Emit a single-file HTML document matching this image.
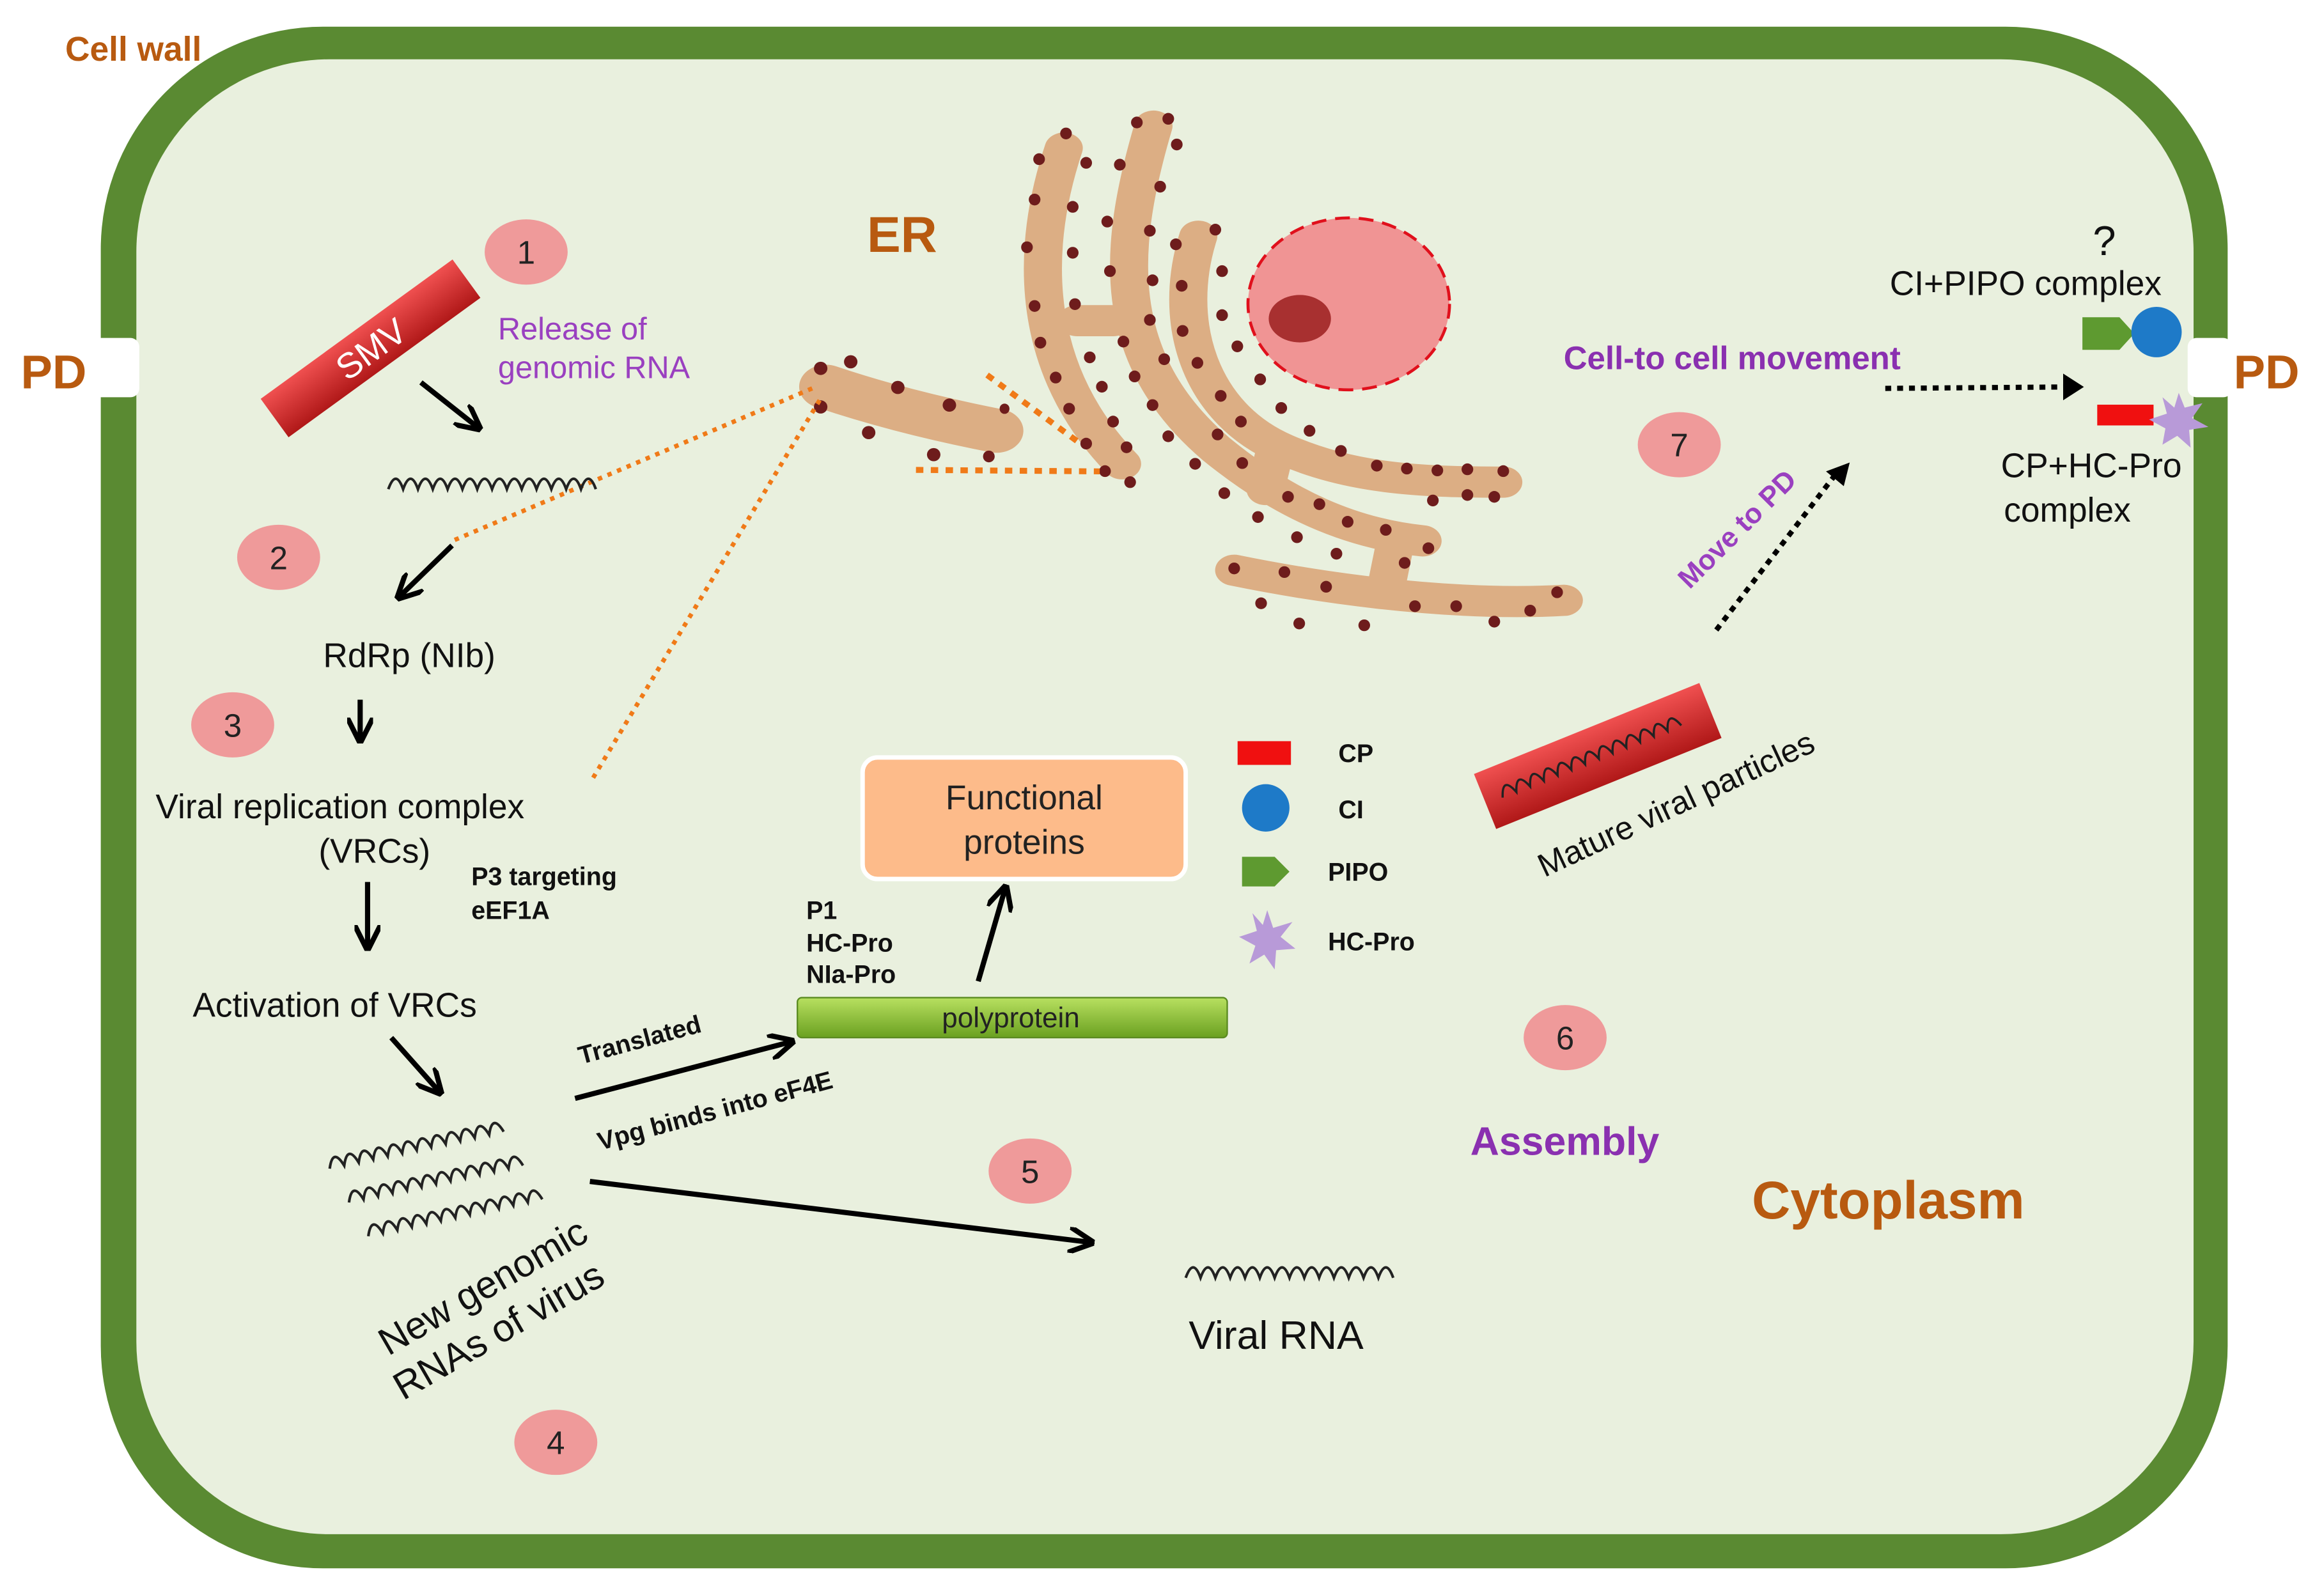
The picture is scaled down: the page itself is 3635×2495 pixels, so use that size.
<!DOCTYPE html>
<html><head><meta charset="utf-8"><style>
html,body{margin:0;padding:0;background:#fff}
svg{display:block}
text{font-family:"Liberation Sans","DejaVu Sans",sans-serif}
</style></head><body>
<svg width="3635" height="2495" viewBox="0 0 1568 1076" preserveAspectRatio="none" xmlns="http://www.w3.org/2000/svg">
<defs>
<marker id="ah" viewBox="0 0 10 10" refX="8" refY="5" markerWidth="5" markerHeight="5" orient="auto"><path d="M0,0 L10,5 L0,10" fill="none" stroke="#000" stroke-width="2"/></marker>
<linearGradient id="red" x1="0" y1="0" x2="0" y2="1"><stop offset="0" stop-color="#f05050"/><stop offset="1" stop-color="#b01818"/></linearGradient>
<linearGradient id="grn" x1="0" y1="0" x2="0" y2="1"><stop offset="0" stop-color="#b8e060"/><stop offset="1" stop-color="#6aa020"/></linearGradient>
</defs>
<rect width="1568" height="1076" fill="#fff"/>
<rect x="68" y="18" width="1435" height="1040" rx="150" fill="#5a8a32"/>
<rect x="92" y="40" width="1388" height="995" rx="130" fill="#e9f0de"/>
<rect x="62" y="228" width="32" height="40" rx="6" fill="#fff"/>
<rect x="1476" y="228" width="30" height="40" rx="6" fill="#fff"/>
<text x="44" y="41" font-size="23" font-weight="bold" fill="#b85a10">Cell wall</text>
<text x="14" y="262" font-size="32" font-weight="bold" fill="#b85a10">PD</text>
<text x="1507" y="262" font-size="32" font-weight="bold" fill="#b85a10">PD</text>
<text x="585" y="170" font-size="34" font-weight="bold" fill="#b85a10">ER</text>
<text x="1182" y="822" font-size="36" font-weight="bold" fill="#b85a10">Cytoplasm</text>

<!-- ER in zoom coordinates -->
<g transform="translate(518,43) scale(0.3026,0.2476)">
<g fill="none" stroke="#dcae84" stroke-width="85" stroke-linecap="round">
<path d="M660,230 C600,450 560,800 790,1090"/>
<path d="M860,170 C780,500 760,800 1000,1050 C1150,1200 1300,1280 1460,1300"/>
<path d="M960,470 C900,700 960,950 1150,1050 C1300,1130 1450,1140 1640,1140"/>
<path d="M1040,1380 C1200,1420 1500,1480 1775,1462"/>
<path d="M690,700 L770,700"/>
<path d="M1130,1060 L1110,1160"/>
<path d="M1400,1300 L1380,1420"/>
<path d="M130,880 Q300,950 510,1000" stroke-width="120"/>
</g>
<g fill="#6e1c1c">
<ellipse cx="665" cy="190" rx="13" ry="16"/><ellipse cx="605" cy="260" rx="13" ry="16"/><ellipse cx="710" cy="270" rx="13" ry="16"/><ellipse cx="595" cy="370" rx="13" ry="16"/><ellipse cx="680" cy="390" rx="13" ry="16"/><ellipse cx="578" cy="500" rx="13" ry="16"/><ellipse cx="680" cy="515" rx="13" ry="16"/><ellipse cx="595" cy="660" rx="13" ry="16"/><ellipse cx="685" cy="655" rx="13" ry="16"/><ellipse cx="608" cy="760" rx="13" ry="16"/><ellipse cx="718" cy="800" rx="13" ry="16"/><ellipse cx="642" cy="855" rx="13" ry="16"/><ellipse cx="745" cy="880" rx="13" ry="16"/><ellipse cx="672" cy="940" rx="13" ry="16"/><ellipse cx="770" cy="975" rx="13" ry="16"/><ellipse cx="710" cy="1035" rx="13" ry="16"/><ellipse cx="800" cy="1045" rx="13" ry="16"/><ellipse cx="752" cy="1110" rx="13" ry="16"/><ellipse cx="808" cy="1140" rx="13" ry="16"/>
<ellipse cx="823" cy="160" rx="13" ry="16"/><ellipse cx="893" cy="150" rx="13" ry="16"/><ellipse cx="912" cy="220" rx="13" ry="16"/><ellipse cx="785" cy="275" rx="13" ry="16"/><ellipse cx="875" cy="335" rx="13" ry="16"/><ellipse cx="757" cy="430" rx="13" ry="16"/><ellipse cx="852" cy="455" rx="13" ry="16"/><ellipse cx="763" cy="565" rx="13" ry="16"/><ellipse cx="858" cy="590" rx="13" ry="16"/><ellipse cx="852" cy="698" rx="13" ry="16"/><ellipse cx="793" cy="757" rx="13" ry="16"/><ellipse cx="884" cy="805" rx="13" ry="16"/><ellipse cx="818" cy="852" rx="13" ry="16"/><ellipse cx="858" cy="930" rx="13" ry="16"/><ellipse cx="893" cy="1015" rx="13" ry="16"/><ellipse cx="953" cy="1090" rx="13" ry="16"/><ellipse cx="1018" cy="1170" rx="13" ry="16"/><ellipse cx="1093" cy="1235" rx="13" ry="16"/><ellipse cx="1180" cy="1290" rx="13" ry="16"/><ellipse cx="1268" cy="1335" rx="13" ry="16"/>
<ellipse cx="998" cy="452" rx="13" ry="16"/><ellipse cx="910" cy="492" rx="13" ry="16"/><ellipse cx="1013" cy="565" rx="13" ry="16"/><ellipse cx="923" cy="605" rx="13" ry="16"/><ellipse cx="1013" cy="685" rx="13" ry="16"/><ellipse cx="925" cy="728" rx="13" ry="16"/><ellipse cx="1047" cy="770" rx="13" ry="16"/><ellipse cx="958" cy="815" rx="13" ry="16"/><ellipse cx="1098" cy="860" rx="13" ry="16"/><ellipse cx="1010" cy="905" rx="13" ry="16"/><ellipse cx="1145" cy="938" rx="13" ry="16"/><ellipse cx="1055" cy="975" rx="13" ry="16"/><ellipse cx="1208" cy="1000" rx="13" ry="16"/><ellipse cx="1003" cy="1010" rx="13" ry="16"/><ellipse cx="1058" cy="1088" rx="13" ry="16"/><ellipse cx="1278" cy="1055" rx="13" ry="16"/><ellipse cx="1358" cy="1095" rx="13" ry="16"/><ellipse cx="1425" cy="1103" rx="13" ry="16"/><ellipse cx="1493" cy="1108" rx="13" ry="16"/><ellipse cx="1560" cy="1105" rx="13" ry="16"/><ellipse cx="1483" cy="1190" rx="13" ry="16"/><ellipse cx="1560" cy="1175" rx="13" ry="16"/><ellipse cx="1640" cy="1110" rx="13" ry="16"/><ellipse cx="1620" cy="1180" rx="13" ry="16"/>
<ellipse cx="1160" cy="1180" rx="13" ry="16"/><ellipse cx="1230" cy="1200" rx="13" ry="16"/><ellipse cx="1293" cy="1248" rx="13" ry="16"/><ellipse cx="1378" cy="1270" rx="13" ry="16"/><ellipse cx="1473" cy="1320" rx="13" ry="16"/><ellipse cx="1420" cy="1360" rx="13" ry="16"/><ellipse cx="1040" cy="1375" rx="13" ry="16"/><ellipse cx="1152" cy="1385" rx="13" ry="16"/><ellipse cx="1245" cy="1425" rx="13" ry="16"/><ellipse cx="1100" cy="1470" rx="13" ry="16"/><ellipse cx="1185" cy="1525" rx="13" ry="16"/><ellipse cx="1443" cy="1478" rx="13" ry="16"/><ellipse cx="1535" cy="1478" rx="13" ry="16"/><ellipse cx="1620" cy="1520" rx="13" ry="16"/><ellipse cx="1700" cy="1490" rx="13" ry="16"/><ellipse cx="1760" cy="1440" rx="13" ry="16"/><ellipse cx="1330" cy="1530" rx="13" ry="16"/>
<ellipse cx="118" cy="830" rx="15" ry="18"/><ellipse cx="185" cy="812" rx="15" ry="18"/><ellipse cx="290" cy="882" rx="15" ry="18"/><ellipse cx="405" cy="930" rx="15" ry="18"/><ellipse cx="118" cy="935" rx="15" ry="18"/><ellipse cx="225" cy="1005" rx="15" ry="18"/><ellipse cx="370" cy="1065" rx="15" ry="18"/><ellipse cx="493" cy="1070" rx="13" ry="16"/><ellipse cx="528" cy="940" rx="11" ry="14"/>
</g>
</g>
<ellipse cx="910" cy="205" rx="68" ry="58" fill="#f09494" stroke="#e0101c" stroke-width="2" stroke-dasharray="10,6"/>
<ellipse cx="877" cy="215" rx="21" ry="16" fill="#a83030"/>
<!-- dotted orange -->
<g stroke="#f07a18" stroke-width="3" stroke-dasharray="3,4" fill="none">
<path d="M548,262 L305,365"/><path d="M553,270 L400,525"/>
<path d="M666,253 L730,300 M618,317 L742,318" stroke-width="4" stroke-dasharray="5,5"/>
</g>

<!-- step circles -->
<g fill="#ef9a9a"><ellipse cx="355" cy="170" rx="28" ry="22"/><ellipse cx="188" cy="376" rx="28" ry="22"/><ellipse cx="157" cy="489" rx="28" ry="22"/><ellipse cx="375" cy="973" rx="28" ry="22"/><ellipse cx="695" cy="790" rx="28" ry="22"/><ellipse cx="1056" cy="700" rx="28" ry="22"/><ellipse cx="1133" cy="300" rx="28" ry="22"/></g>
<g font-size="22" text-anchor="middle" fill="#222"><text x="355" y="178">1</text><text x="188" y="384">2</text><text x="157" y="497">3</text><text x="375" y="981">4</text><text x="695" y="798">5</text><text x="1056" y="708">6</text><text x="1133" y="308">7</text></g>

<!-- SMV -->
<g transform="translate(250,235) rotate(-36)"><rect x="-80" y="-16" width="160" height="32" fill="url(#red)"/><text x="0" y="9" font-size="24" fill="#fff" text-anchor="middle">SMV</text></g>
<text x="336" y="229" font-size="21" fill="#9a40c0">Release of</text>
<text x="336" y="255" font-size="21" fill="#9a40c0">genomic RNA</text>

<g stroke="#000" stroke-width="3.5" fill="none" marker-end="url(#ah)">
<path d="M284,258 L322,288"/><path d="M305,368 L270,402"/><path d="M243,472 L243,498"/><path d="M248,595 L248,638"/><path d="M264,700 L296,736"/><path d="M388,741 L533,703"/><path d="M398,797 L735,838"/><path d="M660,662 L678,600"/>
</g>
<g stroke="#000" stroke-width="3.5" fill="none" stroke-dasharray="4,4"><path d="M1158,425 L1240,318"/><path d="M1272,262 L1400,261"/></g>
<g fill="#000"><path d="M1248,312 L1232,318 L1244,328Z"/><path d="M1406,261 L1392,252 L1392,270Z"/></g>

<!-- RNA squiggles -->
<g stroke="#222" stroke-width="1.8" fill="none">
<path d="M262,330 q5,-14 10,0 q5,-14 10,0 q5,-14 10,0 q5,-14 10,0 q5,-14 10,0 q5,-14 10,0 q5,-14 10,0 q5,-14 10,0 q5,-14 10,0 q5,-14 10,0 q5,-14 10,0 q5,-14 10,0 q5,-14 10,0 q5,-14 10,0"/>
<path d="M800,862 q5,-14 10,0 q5,-14 10,0 q5,-14 10,0 q5,-14 10,0 q5,-14 10,0 q5,-14 10,0 q5,-14 10,0 q5,-14 10,0 q5,-14 10,0 q5,-14 10,0 q5,-14 10,0 q5,-14 10,0 q5,-14 10,0 q5,-14 10,0"/>
<g transform="rotate(-12 285 770)"><path d="M220,775 q5,-14 10,0 q5,-14 10,0 q5,-14 10,0 q5,-14 10,0 q5,-14 10,0 q5,-14 10,0 q5,-14 10,0 q5,-14 10,0 q5,-14 10,0 q5,-14 10,0 q5,-14 10,0 q5,-14 10,0"/>
<path d="M228,800 q5,-14 10,0 q5,-14 10,0 q5,-14 10,0 q5,-14 10,0 q5,-14 10,0 q5,-14 10,0 q5,-14 10,0 q5,-14 10,0 q5,-14 10,0 q5,-14 10,0 q5,-14 10,0 q5,-14 10,0"/>
<path d="M236,825 q5,-14 10,0 q5,-14 10,0 q5,-14 10,0 q5,-14 10,0 q5,-14 10,0 q5,-14 10,0 q5,-14 10,0 q5,-14 10,0 q5,-14 10,0 q5,-14 10,0 q5,-14 10,0 q5,-14 10,0"/></g>
</g>

<g font-size="23" fill="#111">
<text x="218" y="450">RdRp (NIb)</text>
<text x="105" y="552">Viral replication complex</text>
<text x="215" y="582">(VRCs)</text>
<text x="130" y="686">Activation of VRCs</text>
<text x="802" y="910" font-size="27">Viral RNA</text>
<text x="1275" y="199">CI+PIPO complex</text>
<text x="1412" y="172" font-size="28">?</text>
<text x="1350" y="322">CP+HC-Pro</text>
<text x="1352" y="352">complex</text>
</g>
<g font-size="17" font-weight="bold" fill="#111">
<text x="318" y="597">P3 targeting</text><text x="318" y="620">eEF1A</text>
<text x="544" y="620">P1</text><text x="544" y="642">HC-Pro</text><text x="544" y="663">NIa-Pro</text>
<text x="903" y="514">CP</text><text x="903" y="552">CI</text><text x="896" y="594">PIPO</text><text x="896" y="641">HC-Pro</text>
<text transform="translate(392,718) rotate(-15)">Translated</text>
<text transform="translate(405,776) rotate(-15)">Vpg binds into eF4E</text>
</g>
<text transform="translate(262,915) rotate(-30)" font-size="26" fill="#111">New genomic</text>
<text transform="translate(272,945) rotate(-30)" font-size="26" fill="#111">RNAs of virus</text>
<text transform="translate(1042,592) rotate(-25)" font-size="22" fill="#111">Mature viral particles</text>
<text transform="translate(1140,398) rotate(-45)" font-size="19" font-weight="bold" fill="#9a40c0">Move to PD</text>
<text x="1055" y="249" font-size="22" font-weight="bold" fill="#8a30b0">Cell-to cell movement</text>
<text x="992" y="779" font-size="27" font-weight="bold" fill="#8a30b0">Assembly</text>

<!-- functional proteins -->
<rect x="582" y="511" width="218" height="82" rx="10" fill="#fdbb8a" stroke="#fff" stroke-width="3"/>
<text x="691" y="546" font-size="23" text-anchor="middle" fill="#222">Functional</text>
<text x="691" y="576" font-size="23" text-anchor="middle" fill="#222">proteins</text>
<rect x="538" y="673" width="290" height="27" rx="3" fill="url(#grn)" stroke="#5a8a20"/>
<text x="682" y="693" font-size="19" text-anchor="middle" fill="#222">polyprotein</text>

<!-- legend -->
<rect x="835" y="500" width="36" height="16" fill="#f01010"/>
<circle cx="854" cy="545" r="16" fill="#1e7ac8"/>
<path d="M838,578 L860,578 L870,588 L860,598 L838,598Z" fill="#5e9a30"/>
<polygon points="855,614 859,626 872,622 864,632 874,640 861,641 860,654 853,644 843,650 847,638 836,632 848,628 845,616 852,624" fill="#b89ad8"/>

<!-- complexes -->
<path d="M1405,214 L1430,214 L1440,225 L1430,236 L1405,236Z" fill="#5e9a30"/>
<circle cx="1455" cy="224" r="17" fill="#1e7ac8"/>
<rect x="1415" y="273" width="38" height="14" fill="#f01010"/>
<polygon points="1470,265 1474,275 1486,272 1479,282 1490,288 1477,290 1478,302 1469,294 1459,300 1461,289 1450,283 1462,279 1459,268 1467,275" fill="#b89ad8"/>

<!-- mature particle -->
<g transform="translate(1078,510) rotate(-22)"><rect x="-82" y="-20" width="164" height="40" fill="url(#red)"/>
<path d="M-70,2 q5,-14 10,0 q5,-14 10,0 q5,-14 10,0 q5,-14 10,0 q5,-14 10,0 q5,-14 10,0 q5,-14 10,0 q5,-14 10,0 q5,-14 10,0 q5,-14 10,0 q5,-14 10,0 q5,-14 10,0 q5,-14 10,0" stroke="#222" stroke-width="1.5" fill="none"/></g>
</svg>
</body></html>
